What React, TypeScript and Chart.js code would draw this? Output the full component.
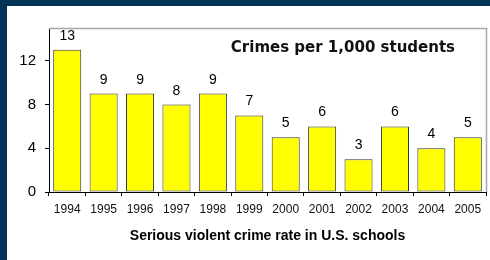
import React, { useEffect, useRef } from "react";
import { Chart, registerables } from "chart.js";

Chart.register(...registerables);

const years = ["1994", "1995", "1996", "1997", "1998", "1999", "2000", "2001", "2002", "2003", "2004", "2005"];
const rates = [13, 9, 9, 8, 9, 7, 5, 6, 3, 6, 4, 5];
const yTicks = [0, 4, 8, 12];
const yMax = 15;
const innerTitle = "Crimes per 1,000 students";
const axisTitle = "Serious violent crime rate in U.S. schools";

const ARIAL = "'Liberation Sans', Arial, sans-serif";

const framePlugin = {
  id: "frame",
  afterDraw(chart: any) {
    const { ctx, chartArea } = chart;
    ctx.save();
    ctx.strokeStyle = "#a8a8a8";
    ctx.lineWidth = 1.5;
    ctx.beginPath();
    ctx.moveTo(chartArea.left, Math.round(chartArea.top) + 0.5);
    ctx.lineTo(Math.round(chartArea.right) + 0.5, Math.round(chartArea.top) + 0.5);
    ctx.lineTo(Math.round(chartArea.right) + 0.5, chartArea.bottom);
    ctx.stroke();
    ctx.fillStyle = "#111";
    ctx.font = "bold 15px 'DejaVu Sans', Verdana, sans-serif";
    ctx.textAlign = "right";
    ctx.textBaseline = "middle";
    ctx.fillText(innerTitle, chartArea.right - 31, chartArea.top + 20);
    ctx.restore();
  },
};

const valueLabels = {
  id: "valueLabels",
  afterDatasetsDraw(chart: any) {
    const { ctx } = chart;
    const meta = chart.getDatasetMeta(0);
    ctx.save();
    ctx.fillStyle = "#000";
    ctx.font = `14px ${ARIAL}`;
    ctx.textAlign = "center";
    ctx.textBaseline = "alphabetic";
    meta.data.forEach((bar: any, i: number) => {
      ctx.fillText(String(rates[i]), bar.x, bar.y - 10);
    });
    ctx.restore();
  },
};

export default function App() {
  const ref = useRef<HTMLCanvasElement | null>(null);

  useEffect(() => {
    if (!ref.current) return;
    const chart = new Chart(ref.current, {
      type: "bar",
      data: {
        labels: years,
        datasets: [
          {
            data: rates,
            backgroundColor: "#ffff00",
            borderColor: "#333333",
            borderWidth: 1,
            borderSkipped: false,
            barPercentage: 0.77,
            categoryPercentage: 1,
          },
        ],
      },
      options: {
        responsive: false,
        animation: false,
        layout: { padding: { top: 22, right: 4, left: 0, bottom: 0 } },
        plugins: {
          legend: { display: false },
          tooltip: { enabled: false },
          title: { display: false },
        },
        scales: {
          x: {
            grid: {
              display: true,
              drawOnChartArea: false,
              drawTicks: true,
              tickLength: 4,
              color: "#000",
              offset: true,
            },
            border: { display: true, color: "#000", width: 1 },
            ticks: {
              color: "#111",
              font: { family: ARIAL, size: 12 },
              padding: 6,
              maxRotation: 0,
              autoSkip: false,
            },
            title: {
              display: true,
              text: axisTitle,
              color: "#000",
              font: { family: ARIAL, size: 14, weight: "bold" },
              padding: { top: 0, bottom: 15 },
            },
            afterFit(scale: any) {
              scale.height = 68;
            },
          },
          y: {
            min: 0,
            max: yMax,
            grid: {
              display: true,
              drawOnChartArea: false,
              drawTicks: true,
              tickLength: 4,
              color: "#000",
            },
            border: { display: true, color: "#000", width: 1 },
            ticks: {
              color: "#000",
              font: { family: ARIAL, size: 15 },
              padding: 9,
            },
            afterBuildTicks(scale: any) {
              scale.ticks = yTicks.map((v) => ({ value: v }));
            },
            afterFit(scale: any) {
              scale.width = 42;
            },
          },
        },
      },
      plugins: [framePlugin, valueLabels],
    });
    return () => chart.destroy();
  }, []);

  return (
    <div
      style={{
        position: "fixed",
        left: 0,
        top: 0,
        width: 490,
        height: 260,
        boxSizing: "border-box",
        background: "#ffffff",
        borderTop: "6px solid #023457",
        borderLeft: "7px solid #023457",
        overflow: "hidden",
      }}
    >
      <canvas ref={ref} width={483} height={254} style={{ display: "block" }} />
    </div>
  );
}
